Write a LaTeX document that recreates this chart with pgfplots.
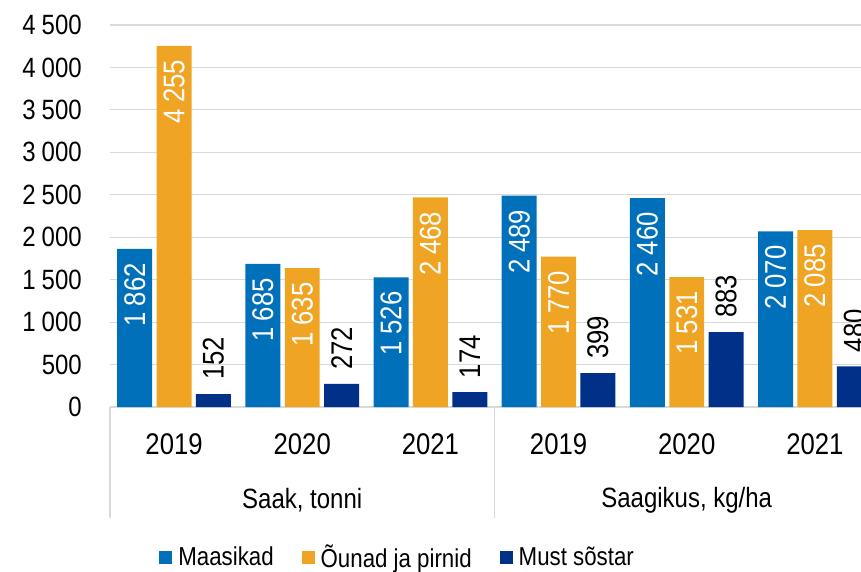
\documentclass[border=0pt]{standalone}
\usepackage{fontspec}
\setmainfont{Liberation Sans}[FakeStretch=0.86]
\usepackage{pgfplots}
\pgfplotsset{compat=1.18}
\definecolor{cblue}{RGB}{0,112,187}
\definecolor{corange}{RGB}{240,164,35}
\definecolor{cnavy}{RGB}{0,48,135}
\definecolor{cgrid}{RGB}{217,217,217}
\pgfplotsset{sq/.style={legend image code/.code={\fill[#1] (0bp,-6.5bp) rectangle (13bp,6.5bp);}}}
\begin{document}
\begin{tikzpicture}
\begin{axis}[
 scale only axis, width=769bp, height=382bp,
 xmin=-0.5, xmax=5.5, ymin=0, ymax=4500,
 clip=false,
 axis x line*=bottom, axis y line*=left,
 y axis line style={draw=none},
 x axis line style={cgrid, line width=1.2pt},
 ytick={0,500,...,4500},
 ymajorgrids, grid style={cgrid, line width=1.2pt},
 xtick={0,...,5}, xticklabels={2019,2020,2021,2019,2020,2021},
 major tick length=0pt,
 tick style={draw=none},
 /pgf/number format/.cd, assume math mode=true, 1000 sep={\hspace{0.22em}},
 /pgfplots/.cd,
 yticklabel style={font=\fontsize{28}{32}\selectfont, inner sep=0pt, xshift=-28bp},
 xticklabel style={font=\fontsize{30}{34}\selectfont, inner sep=0pt, yshift=-26bp},
 ybar, bar width=0.273,
 nodes near coords,
 every node near coord/.append style={font=\fontsize{30}{34}\selectfont, rotate=90, inner xsep=14bp, inner ysep=0pt},
 legend columns=3,
 legend style={draw=none, at={(0.374,-0.393)}, anchor=center, font=\fontsize{26}{30}\selectfont,
   /tikz/every even column/.append style={column sep=26bp},
   /tikz/every odd column/.append style={column sep=4bp}},
]
\addplot[fill=cblue, draw=none, bar shift=-0.307, sq, every node near coord/.append style={text=white, anchor=east}]
 coordinates {(0,1862)(1,1685)(2,1526)(3,2489)(4,2460)(5,2070)};
\addplot[fill=corange, draw=none, bar shift=0, sq, every node near coord/.append style={text=white, anchor=east}]
 coordinates {(0,4255)(1,1635)(2,2468)(3,1770)(4,1531)(5,2085)};
\addplot[fill=cnavy, draw=none, bar shift=0.307, sq, every node near coord/.append style={text=black, anchor=west}]
 coordinates {(0,152)(1,272)(2,174)(3,399)(4,883)(5,480)};
\legend{Maasikad, Õunad ja pirnid, Must sõstar}
\coordinate (O) at (rel axis cs:0,0);
\draw[cgrid, line width=1.2pt] (axis cs:-0.5,0) -- ++(0pt,-111bp);
\draw[cgrid, line width=1.2pt] (axis cs:2.5,0) -- ++(0pt,-111bp);
\draw[cgrid, line width=1.2pt] (axis cs:5.5,0) -- ++(0pt,-111bp);
\node[font=\fontsize{28}{32}\selectfont, yshift=-93bp] at (axis cs:1,0) {Saak, tonni};
\node[font=\fontsize{28}{32}\selectfont, yshift=-93bp] at (axis cs:4,0) {Saagikus, kg/ha};
\end{axis}
\pgfresetboundingbox
\path (O) ++(-110bp,-165bp) rectangle ++(861bp,572bp);
\end{tikzpicture}
\end{document}
